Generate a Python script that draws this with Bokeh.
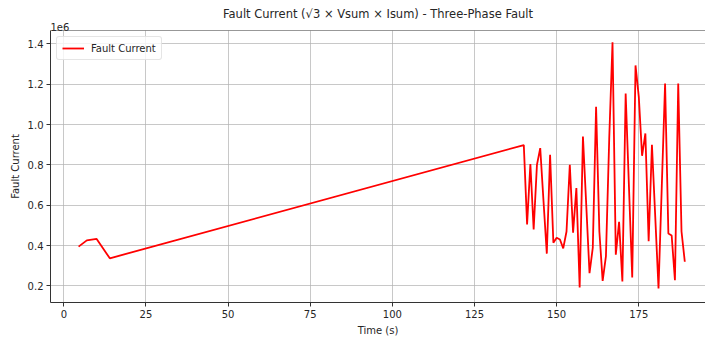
from bokeh.plotting import figure
from bokeh.models import (FixedTicker, CustomJSTickFormatter, Title, Span,
                          Range1d, Legend, LegendItem)
from bokeh.embed import file_html
from bokeh.resources import INLINE

# ---- data ----
time_s = [4.5, 7, 10, 14,
          140, 141, 142, 143, 144, 145, 146, 147, 148, 149,
          150, 151, 152, 153, 154, 155, 156, 157, 158, 159,
          160, 161, 162, 163, 164, 165, 166, 167, 168, 169,
          170, 171, 172, 173, 174, 175, 176, 177, 178, 179,
          180, 181, 182, 183, 184, 185, 186, 187, 188, 189]
fault_current = [0.395e6, 0.426e6, 0.433e6, 0.337e6,
                 0.898e6, 0.505e6, 0.804e6, 0.480e6, 0.800e6, 0.883e6, 0.620e6, 0.360e6, 0.850e6, 0.414e6,
                 0.439e6, 0.430e6, 0.386e6, 0.470e6, 0.800e6, 0.464e6, 0.685e6, 0.193e6, 0.940e6, 0.603e6,
                 0.263e6, 0.390e6, 1.088e6, 0.470e6, 0.225e6, 0.348e6, 0.930e6, 1.408e6, 0.355e6, 0.518e6,
                 0.222e6, 1.154e6, 0.693e6, 0.242e6, 1.293e6, 1.137e6, 0.845e6, 0.956e6, 0.422e6, 0.900e6,
                 0.545e6, 0.188e6, 0.695e6, 1.203e6, 0.460e6, 0.450e6, 0.228e6, 1.203e6, 0.470e6, 0.320e6]
x_ticks = [0, 25, 50, 75, 100, 125, 150, 175]
y_ticks = [0.2e6, 0.4e6, 0.6e6, 0.8e6, 1.0e6, 1.2e6, 1.4e6]

title_text = "Fault Current (\u221a3 \u00d7 Vsum \u00d7 Isum) - Three-Phase Fault"
FONT = "DejaVu Sans"
TXT = "#262626"

p = figure(width=705, height=340, output_backend="svg", toolbar_location=None,
           x_range=Range1d(-4.05, 195.3), y_range=Range1d(0.118e6, 1.466e6),
           min_border_left=50, min_border_right=0, min_border_top=30, min_border_bottom=38,
           background_fill_color="white", border_fill_color="white")

p.title.text = title_text
p.title.align = "center"
p.title.offset = 12
p.title.text_font = FONT
p.title.text_font_size = "11.5px"
p.title.text_font_style = "normal"
p.title.text_color = TXT
p.title.standoff = 0

# offset-text of the scaled y axis
p.add_layout(Title(text="1e6", align="left", text_font=FONT, text_font_size="10px",
                   text_font_style="normal", text_color=TXT, standoff=0, offset=0),
             "above")

p.outline_line_color = None

for ax in (p.xaxis[0], p.yaxis[0]):
    ax.axis_line_color = "#333333"
    ax.axis_line_width = 1
    ax.major_tick_line_color = "#333333"
    ax.major_tick_in = 0
    ax.major_tick_out = 4
    ax.minor_tick_line_color = None
    ax.major_label_text_font = FONT
    ax.major_label_text_font_size = "10px"
    ax.major_label_text_color = TXT
    ax.axis_label_text_font = FONT
    ax.axis_label_text_font_size = "10px"
    ax.axis_label_text_font_style = "normal"
    ax.axis_label_text_color = TXT
    ax.major_label_standoff = 3
    ax.axis_label_standoff = 4

p.xaxis[0].ticker = FixedTicker(ticks=x_ticks)
p.yaxis[0].ticker = FixedTicker(ticks=y_ticks)
p.yaxis[0].formatter = CustomJSTickFormatter(code="return (tick/1e6).toFixed(1);")
p.xaxis[0].axis_label = "Time (s)"
p.yaxis[0].axis_label = "Fault Current"

p.xgrid.ticker = FixedTicker(ticks=x_ticks)
p.ygrid.ticker = FixedTicker(ticks=y_ticks)
for g in (p.xgrid[0], p.ygrid[0]):
    g.grid_line_color = "#b0b0b0"
    g.grid_line_alpha = 0.7
    g.grid_line_width = 1

# top frame edge
p.add_layout(Span(location=1.466e6, dimension="width", line_color="#333333", line_width=1))

r = p.line(time_s, fault_current, line_color="#ff0000", line_width=1.8)

legend = Legend(items=[LegendItem(label="Fault Current", renderers=[r])],
                location="top_left")
legend.label_text_font = FONT
legend.label_text_font_size = "10px"
legend.label_text_color = TXT
legend.glyph_width = 22
legend.glyph_height = 12
legend.label_standoff = 7
legend.padding = 5
legend.margin = 6
legend.border_line_color = "#cccccc"
legend.border_line_width = 1
legend.border_radius = 3
legend.background_fill_alpha = 0.8
p.add_layout(legend)

open("out.html", "w").write(file_html(p, INLINE))
